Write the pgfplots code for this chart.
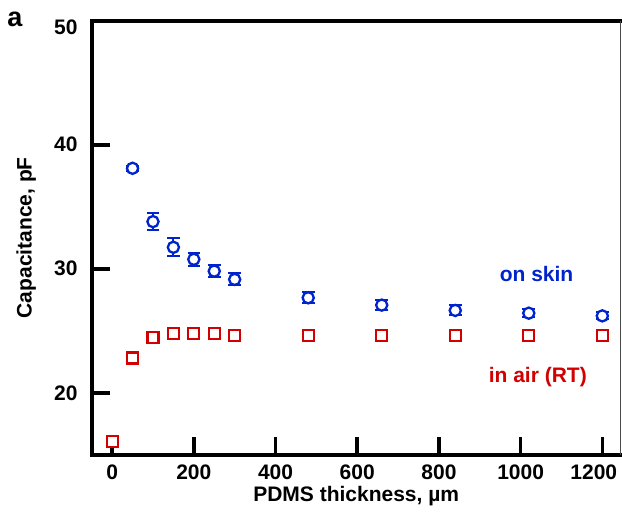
\documentclass[border=0pt]{standalone}
\usepackage{pgfplots}
\pgfplotsset{compat=1.18}
\usepackage{fontspec}
\setmainfont{Liberation Sans}
\definecolor{skinblue}{RGB}{0,36,204}
\definecolor{airred}{RGB}{210,0,0}
\begin{document}
\begin{tikzpicture}
\useasboundingbox (0,0) rectangle (622bp,523bp);
\node[anchor=base, font=\bfseries\fontsize{27bp}{30bp}\selectfont, inner sep=0pt] at (15bp,496.3bp) {a};
\begin{axis}[
  at={(91.7bp,68.2bp)}, anchor=south west,
  scale only axis, width=529bp, height=434.1bp,
  xmin=-50, xmax=1245, ymin=15, ymax=50,
  axis line style={draw=none},
  xtick={0,200,...,1000}, ytick={20,30,40},
  extra x ticks={1200},
  extra x tick style={xticklabel style={xshift=-8.5bp}},
  extra y ticks={50},
  extra y tick style={yticklabel style={yshift=-6.5bp}, major tick length=0pt},
  xtick pos=bottom, ytick pos=left, tick align=inside,
  major tick length=18bp,
  tick style={black, line width=3.6bp},
  /pgf/number format/assume math mode=true,
  /pgf/number format/set thousands separator={},
  ticklabel style={font=\bfseries\fontsize{21bp}{25bp}\selectfont, inner sep=0pt},
  xticklabel style={yshift=-10bp},
  yticklabel style={xshift=-14bp},
  xlabel={PDMS thickness, µm},
  ylabel={Capacitance, pF},
  label style={font=\bfseries\fontsize{21bp}{25bp}\selectfont, inner sep=0pt},
  xlabel style={at={(axis description cs:0.5,-0.1087)}, anchor=base},
  ylabel style={at={(axis description cs:-0.1134,0.5)}, anchor=base},
  clip=false,
]
\draw[black, line width=4bp, line cap=rect, line join=miter]
  (rel axis cs:1,1) -- (rel axis cs:0,1) -- (rel axis cs:0,0) -- (rel axis cs:1,0);
\draw[black!70, line width=1.2bp] (rel axis cs:1,0) -- (rel axis cs:1,1);

% in air (RT)
\addplot[only marks, mark=square*, mark size=5.5bp, draw=airred, fill=white, line width=2.2bp]
  table[x=x, y=y] {
x y
0 16.1
50 22.8
100 24.45
150 24.8
200 24.75
250 24.8
300 24.64
480 24.62
660 24.6
840 24.64
1020 24.6
1200 24.64
};

% on skin
\addplot[only marks, mark=*, mark size=5.6bp, draw=skinblue, fill=white, line width=2.3bp,
  error bars/.cd, y dir=both, y explicit,
  error bar style={skinblue, line width=2bp},
  error mark options={rotate=90, mark size=6.3bp, skinblue, line width=2bp}]
  table[x=x, y=y, y error=e] {
x y e
50 38.1 0.2
100 33.8 0.69
150 31.73 0.73
200 30.76 0.5
250 29.81 0.48
300 29.14 0.48
480 27.66 0.45
660 27.07 0.42
840 26.64 0.4
1020 26.42 0.3
1200 26.2 0.28
};
\addplot[only marks, mark=*, mark size=0pt, skinblue, forget plot,
  error bars/.cd, y dir=both, y explicit,
  error bar style={skinblue, line width=1.6bp},
  error mark options={rotate=90, mark size=5.2bp, skinblue, line width=1.6bp}]
  coordinates {(50,38.1) +- (0,0.2)};

\node[font=\bfseries\fontsize{21bp}{25bp}\selectfont, text=skinblue] at (axis cs:1039,29.57) {on skin};
\node[font=\bfseries\fontsize{21bp}{25bp}\selectfont, text=airred] at (axis cs:1042,21.24) {in air (RT)};
\end{axis}
\end{tikzpicture}
\end{document}
